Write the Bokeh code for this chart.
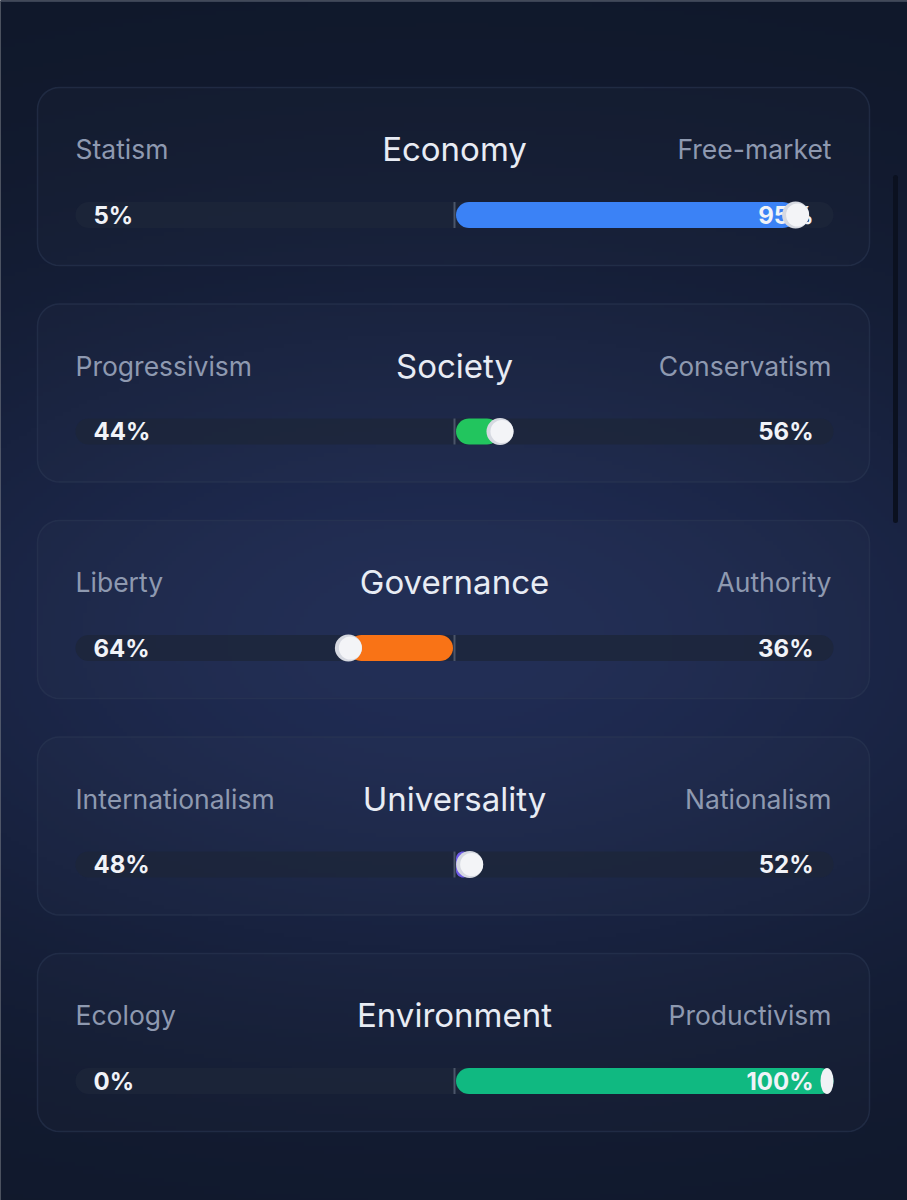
import numpy as np
from bokeh.plotting import figure
from bokeh.models import Range1d, ColumnDataSource
from bokeh.core.properties import value
from bokeh.embed import file_html
from bokeh.resources import INLINE

# ---------------- data ----------------
categories = ["Economy", "Society", "Governance", "Universality", "Environment"]
left_labels = ["Statism", "Progressivism", "Liberty", "Internationalism", "Ecology"]
right_labels = ["Free-market", "Conservatism", "Authority", "Nationalism", "Productivism"]
left_pct = [5, 44, 64, 48, 0]
right_pct = [95, 56, 36, 52, 100]
bar_colors = ["#3b82f6", "#22c55e", "#f97316", "#6d5ae6", "#10b981"]

# ---------------- layout ----------------
W, H = 907, 1200
CARD_X0, CARD_X1 = 37, 869
CARD_TOP0, CARD_STEP, CARD_H = 87, 216.5, 178
TRACK_X0, TRACK_X1 = 75, 833
TRACK_H = 26
CENTER = (TRACK_X0 + TRACK_X1) / 2
HALF = (TRACK_X1 - TRACK_X0) / 2
KNOB_R = 13.5

FONT = value("Inter")

p = figure(width=W, height=H, x_range=Range1d(0, W), y_range=Range1d(H, 0),
           output_backend="svg", toolbar_location=None, min_border=0,
           outline_line_color=None, background_fill_color="#111827",
           border_fill_color="#111827")
p.axis.visible = False
p.grid.visible = False

# background radial gradient
gh, gw = 300, 227
yy, xx = np.mgrid[0:gh, 0:gw]
X = (xx + 0.5) * (W / gw)
Y = (yy + 0.5) * (H / gh)
dx = (X - 450) / 1300
dy = (Y - 640) / 700
t = np.exp(-(dx ** 2 + dy ** 2) * 3.6)
edge = np.array([16, 24, 42])
mid = np.array([32, 44, 84])
img = np.empty((gh, gw), dtype=np.uint32)
view = img.view(dtype=np.uint8).reshape((gh, gw, 4))
for c in range(3):
    view[:, :, c] = (edge[c] + (mid[c] - edge[c]) * t).astype(np.uint8)
view[:, :, 3] = 255
p.image_rgba(image=[img], x=-2, y=-2, dw=W + 4, dh=H + 4)


def rrect(x0, x1, y0, y1, r, n=10):
    r = min(r, (x1 - x0) / 2, (y1 - y0) / 2)
    xs, ys = [], []
    corners = [(x1 - r, y0 + r, -np.pi / 2, 0), (x1 - r, y1 - r, 0, np.pi / 2),
               (x0 + r, y1 - r, np.pi / 2, np.pi), (x0 + r, y0 + r, np.pi, 1.5 * np.pi)]
    for cx, cy, a0, a1 in corners:
        a = np.linspace(a0, a1, n)
        xs.extend(cx + r * np.cos(a))
        ys.extend(cy + r * np.sin(a))
    return list(xs), list(ys)


n = len(categories)
tops = [CARD_TOP0 + i * CARD_STEP for i in range(n)]

# cards
cxs, cys = [], []
for tp in tops:
    a, b = rrect(CARD_X0, CARD_X1, tp, tp + CARD_H, 22)
    cxs.append(a); cys.append(b)
p.patches(cxs, cys, fill_color="#ffffff", fill_alpha=0.015,
          line_color="#2c3854", line_alpha=0.55, line_width=1.5)

# tracks
txs, tys = [], []
track_y = [tp + 127.5 for tp in tops]
for ty in track_y:
    a, b = rrect(TRACK_X0, TRACK_X1, ty - TRACK_H / 2, ty + TRACK_H / 2, 13)
    txs.append(a); tys.append(b)
p.patches(txs, tys, fill_color="#1d2539", fill_alpha=0.8, line_color=None)

# bars
bxs, bys, kx = [], [], []
for i in range(n):
    ty = track_y[i]
    if right_pct[i] >= left_pct[i]:
        pos = CENTER + (right_pct[i] - 50) / 50 * HALF
        x0, x1 = CENTER + 1.5, max(pos, CENTER + 3)
    else:
        pos = CENTER - (left_pct[i] - 50) / 50 * HALF
        x0, x1 = min(pos, CENTER - 3), CENTER - 1.5
    kx.append(pos)
    a, b = rrect(x0, x1, ty - TRACK_H / 2, ty + TRACK_H / 2, 13)
    bxs.append(a); bys.append(b)
p.patches(xs=bxs, ys=bys, fill_color=bar_colors, line_color=None)

# center dividers
p.segment(x0=[CENTER] * n, x1=[CENTER] * n,
          y0=[ty - TRACK_H / 2 for ty in track_y], y1=[ty + TRACK_H / 2 for ty in track_y],
          line_color="#4b5569", line_width=2)

# texts
src = ColumnDataSource(dict(
    cat=categories, ll=left_labels, rl=right_labels,
    lp=[f"{v}%" for v in left_pct], rp=[f"{v}%" for v in right_pct],
    ly=[tp + 61.5 for tp in tops], ty=[ty for ty in track_y],
    cx=[CENTER] * n, lx=[TRACK_X0] * n, rx=[TRACK_X1 - 2] * n,
    lpx=[93] * n, rpx=[813] * n))
p.text(x="cx", y="ly", text="cat", source=src, text_font=FONT, text_font_size="33px",
       text_color="#e8ecf4", text_align="center", text_baseline="middle")
p.text(x="lx", y="ly", text="ll", source=src, text_font=FONT, text_font_size="26.5px",
       text_color="#8e99b0", text_align="left", text_baseline="middle")
p.text(x="rx", y="ly", text="rl", source=src, text_font=FONT, text_font_size="26.5px",
       text_color="#8e99b0", text_align="right", text_baseline="middle")
p.text(x="lpx", y="ty", text="lp", source=src, text_font=FONT, text_font_size="24px",
       text_font_style="bold", text_color="#f1f3f8", text_align="left", text_baseline="middle")
p.text(x="rpx", y="ty", text="rp", source=src, text_font=FONT, text_font_size="24px",
       text_font_style="bold", text_color="#f1f3f8", text_align="right", text_baseline="middle")

# knobs
full_x = [x for x in kx if x < TRACK_X1 - KNOB_R + 1]
full_y = [track_y[i] for i, x in enumerate(kx) if x < TRACK_X1 - KNOB_R + 1]
edge_x = [x for x in kx if x >= TRACK_X1 - KNOB_R + 1]
edge_y = [track_y[i] for i, x in enumerate(kx) if x >= TRACK_X1 - KNOB_R + 1]
p.circle(x=full_x, y=full_y, radius=KNOB_R, fill_color="#d6d9e1", line_color=None)
p.circle(x=[x + 2 for x in full_x], y=full_y, radius=KNOB_R - 2, fill_color="#f3f4f7", line_color=None)
if edge_x:
    p.ellipse(x=[x - 6.5 for x in edge_x], y=edge_y, width=13, height=26,
              fill_color="#f0f2f5", line_color=None)

# scrollbar & top line
p.segment(x0=[895], x1=[895], y0=[177], y1=[520], line_color="#0b1120", line_width=5, line_cap="round")
p.segment(x0=[0], x1=[W], y0=[0.5], y1=[0.5], line_color="#3a4254", line_width=2)

open("out.html", "w").write(file_html(p, INLINE))
